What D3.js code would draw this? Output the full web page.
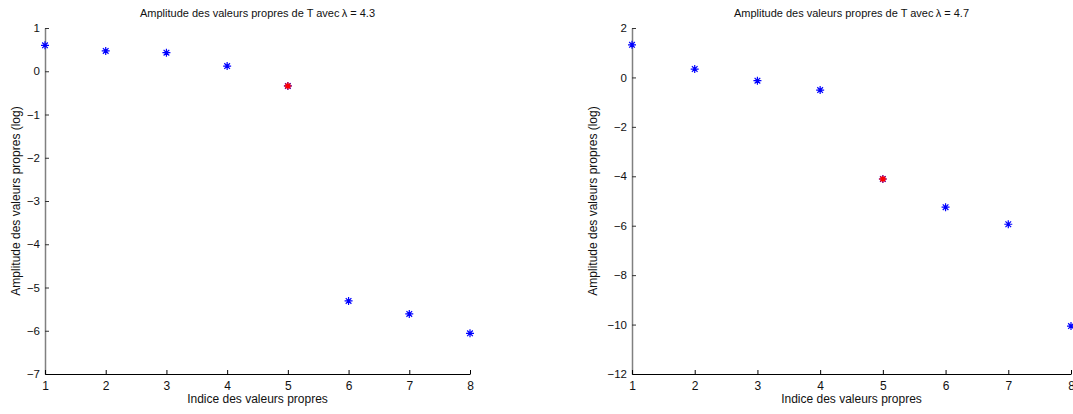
<!DOCTYPE html>
<html>
<head>
<meta charset="utf-8">
<script src="https://cdn.jsdelivr.net/npm/d3@7"></script>
<style>
  html, body { margin: 0; padding: 0; background: #fff; }
  svg { display: block; font-family: "Liberation Sans", Arial, Helvetica, sans-serif; }
</style>
</head>
<body>
<svg id="chart" width="1073" height="414"></svg>
<script>
// ---- data ----
const indices = [1, 2, 3, 4, 5, 6, 7, 8];
const ampLambda43 = [0.60, 0.47, 0.43, 0.12, -0.34, -5.31, -5.61, -6.06];
const ampLambda47 = [1.32, 0.34, -0.13, -0.51, -4.11, -5.25, -5.94, -10.06];
const highlightIndex = 5;
const lambdas = ["4.3", "4.7"];
const yTicks43 = [-7, -6, -5, -4, -3, -2, -1, 0, 1];
const yTicks47 = [-12, -10, -8, -6, -4, -2, 0, 2];
const xTicks = [1, 2, 3, 4, 5, 6, 7, 8];
const titlePrefix = "Amplitude des valeurs propres de T avec\u2009λ = ";
const xLabel = "Indice des valeurs propres";
const yLabel = "Amplitude des valeurs propres (log)";

// ---- layout ----
const panels = [
  { values: ampLambda43, lambda: lambdas[0], yTicks: yTicks43, yDomain: [-7, 1], x0: 45, x1: 470, ylabX: 20 },
  { values: ampLambda47, lambda: lambdas[1], yTicks: yTicks47, yDomain: [-12, 2], x0: 632, x1: 1071, ylabX: 597 }
];
const plotTop = 28, plotBottom = 374;
const svg = d3.select("#chart");

function starPath(r) {
  const d = r * Math.SQRT1_2;
  return `M${-r},0L${r},0M0,${-r}L0,${r}M${-d},${-d}L${d},${d}M${-d},${d}L${d},${-d}`;
}

panels.forEach(p => {
  const x = d3.scaleLinear().domain([1, 8]).range([p.x0, p.x1]);
  const y = d3.scaleLinear().domain(p.yDomain).range([plotBottom, plotTop]);
  const g = svg.append("g");

  // y axis
  const ya = g.append("g").attr("transform", `translate(${p.x0},0)`)
    .call(d3.axisLeft(y).tickValues(p.yTicks).tickSizeInner(-4).tickSizeOuter(0).tickPadding(5));
  ya.select(".domain").attr("stroke", "#808080").attr("stroke-width", 1.5);
  ya.selectAll(".tick line").attr("stroke", "#333");
  ya.selectAll(".tick text").attr("font-size", 11.5).attr("fill", "#111")
    .attr("font-family", "Liberation Sans, Arial, sans-serif");

  // x axis
  const xa = g.append("g").attr("transform", `translate(0,${plotBottom})`)
    .call(d3.axisBottom(x).tickValues(xTicks).tickFormat(d3.format("d")).tickSizeInner(-4).tickSizeOuter(0).tickPadding(7));
  xa.select(".domain").attr("stroke", "#000").attr("stroke-width", 1);
  xa.selectAll(".tick line").attr("stroke", "#000");
  xa.selectAll(".tick text").attr("font-size", 12).attr("fill", "#111")
    .attr("font-family", "Liberation Sans, Arial, sans-serif");

  // title
  g.append("text").attr("x", (p.x0 + p.x1) / 2).attr("y", 17)
    .attr("text-anchor", "middle").attr("font-size", 11).attr("fill", "#111")
    .text(titlePrefix + p.lambda);

  // x label
  g.append("text").attr("x", (p.x0 + p.x1) / 2).attr("y", 403)
    .attr("text-anchor", "middle").attr("font-size", 12).attr("fill", "#111")
    .text(xLabel);

  // y label
  g.append("text")
    .attr("transform", `translate(${p.ylabX},${(plotTop + plotBottom) / 2}) rotate(-90)`)
    .attr("text-anchor", "middle").attr("font-size", 12).attr("fill", "#111")
    .text(yLabel);

  // markers
  const pts = indices.map((k, i) => ({ k, v: p.values[i] }));
  g.append("g").selectAll("path.pt").data(pts).join("path")
    .attr("class", "pt")
    .attr("transform", d => `translate(${x(d.k)},${y(d.v)})`)
    .attr("d", starPath(4))
    .attr("fill", "none").attr("stroke", "#0000ff").attr("stroke-width", 1.2);
  g.append("g").selectAll("path.hl").data(pts.filter(d => d.k === highlightIndex)).join("path")
    .attr("class", "hl")
    .attr("transform", d => `translate(${x(d.k)},${y(d.v)})`)
    .attr("d", starPath(3.6))
    .attr("fill", "none").attr("stroke", "#ff0000").attr("stroke-width", 1.4);
});
</script>
</body>
</html>
